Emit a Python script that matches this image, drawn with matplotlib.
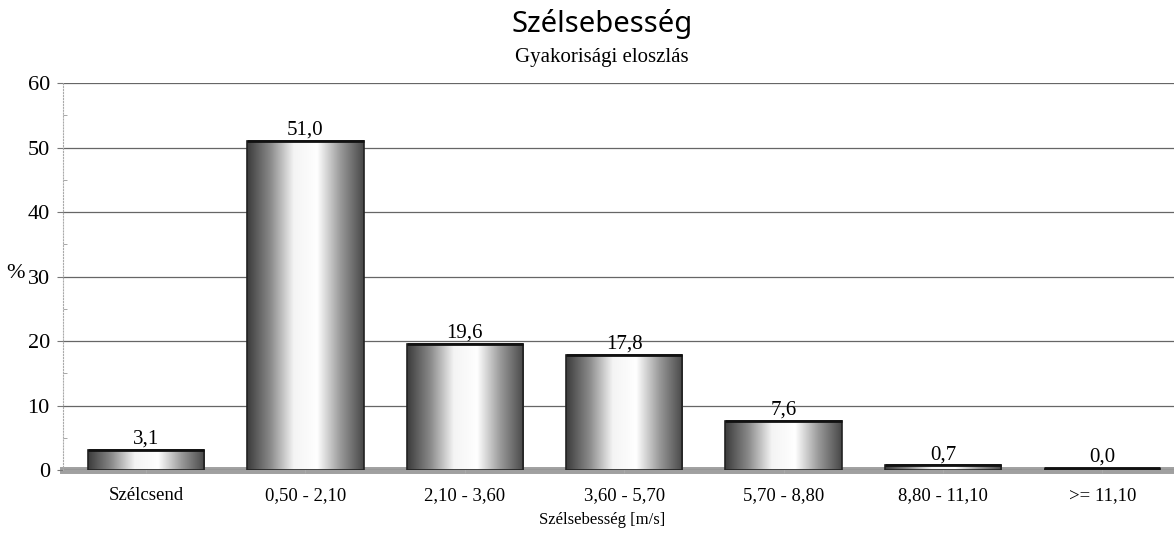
import numpy as np
import matplotlib
matplotlib.use('Agg')
import matplotlib.pyplot as plt
from matplotlib.colors import LinearSegmentedColormap

plt.rcParams['font.family'] = ['Liberation Serif', 'DejaVu Serif']

categories = ['Szélcsend', '0,50 - 2,10', '2,10 - 3,60', '3,60 - 5,70',
              '5,70 - 8,80', '8,80 - 11,10', '>= 11,10']
values = [3.1, 51.0, 19.6, 17.8, 7.6, 0.7, 0.0]
labels = ['3,1', '51,0', '19,6', '17,8', '7,6', '0,7', '0,0']

fig = plt.figure(figsize=(11.74, 5.33), dpi=100)
ax = fig.add_axes([0.0537, 0.1182, 0.9463, 0.726])

x = np.arange(len(categories))
width = 0.73
bars = ax.bar(x, values, width=width, color='none', edgecolor='#222222',
              linewidth=1.2, zorder=3)

# vízszintes színátmenet a hasábokon
cmap = LinearSegmentedColormap.from_list(
    'bar', ['#3c3c3c', '#8a8a8a', '#f4f4f4', '#ffffff', '#9a9a9a', '#484848'])
grad = np.linspace(0, 1, 256).reshape(1, -1)
for b in bars:
    h = b.get_height()
    if h <= 0:
        h = 0.35
    im = ax.imshow(grad, cmap=cmap, aspect='auto', zorder=2,
                   extent=[b.get_x(), b.get_x() + b.get_width(), 0, h])
    clip = plt.Rectangle((b.get_x(), 0), b.get_width(), h,
                         transform=ax.transData)
    im.set_clip_path(clip)
    ax.plot([b.get_x(), b.get_x() + b.get_width()], [h, h],
            color='#111111', lw=2, zorder=4, solid_capstyle='butt')

for xi, v, lab in zip(x, values, labels):
    ax.text(xi, max(v, 0.35) + 0.2, lab, ha='center', va='bottom',
            fontsize=15, zorder=5)

ax.set_xlim(-0.521, 6.45)
ax.set_ylim(0, 60)
ax.set_yticks(np.arange(0, 61, 10))
ax.set_yticks(np.arange(5, 60, 10), minor=True)
ax.set_xticks(x)
ax.set_xticklabels(categories, fontsize=13.5)
ax.tick_params(axis='y', labelsize=16, length=4.5, color='#777777', pad=5)
ax.tick_params(axis='y', which='minor', length=3, color='#999999',
               direction='in')
ax.tick_params(axis='x', length=5, color='#aaaaaa', pad=10, direction='inout')
ax.grid(axis='y', color='#666666', lw=0.9, zorder=0)
ax.axhline(0, color='#a0a0a0', lw=5, zorder=1, clip_on=False)

for s in ['top', 'right', 'bottom']:
    ax.spines[s].set_visible(False)
ax.spines['left'].set_color('#aaaaaa')
ax.spines['left'].set_linestyle(':')

fig.text(0.0136, 0.487, '%', ha='center', va='center', fontsize=16)
fig.text(0.513, 0.024, 'Szélsebesség [m/s]', ha='center', va='center',
         fontsize=12)

fig.text(0.513, 0.955, 'Szélsebesség', ha='center', va='center',
         fontsize=21, family=['Noto Sans', 'DejaVu Sans'])
fig.text(0.513, 0.893, 'Gyakorisági eloszlás', ha='center', va='center',
         fontsize=15)

fig.savefig('out.png', dpi=100)
